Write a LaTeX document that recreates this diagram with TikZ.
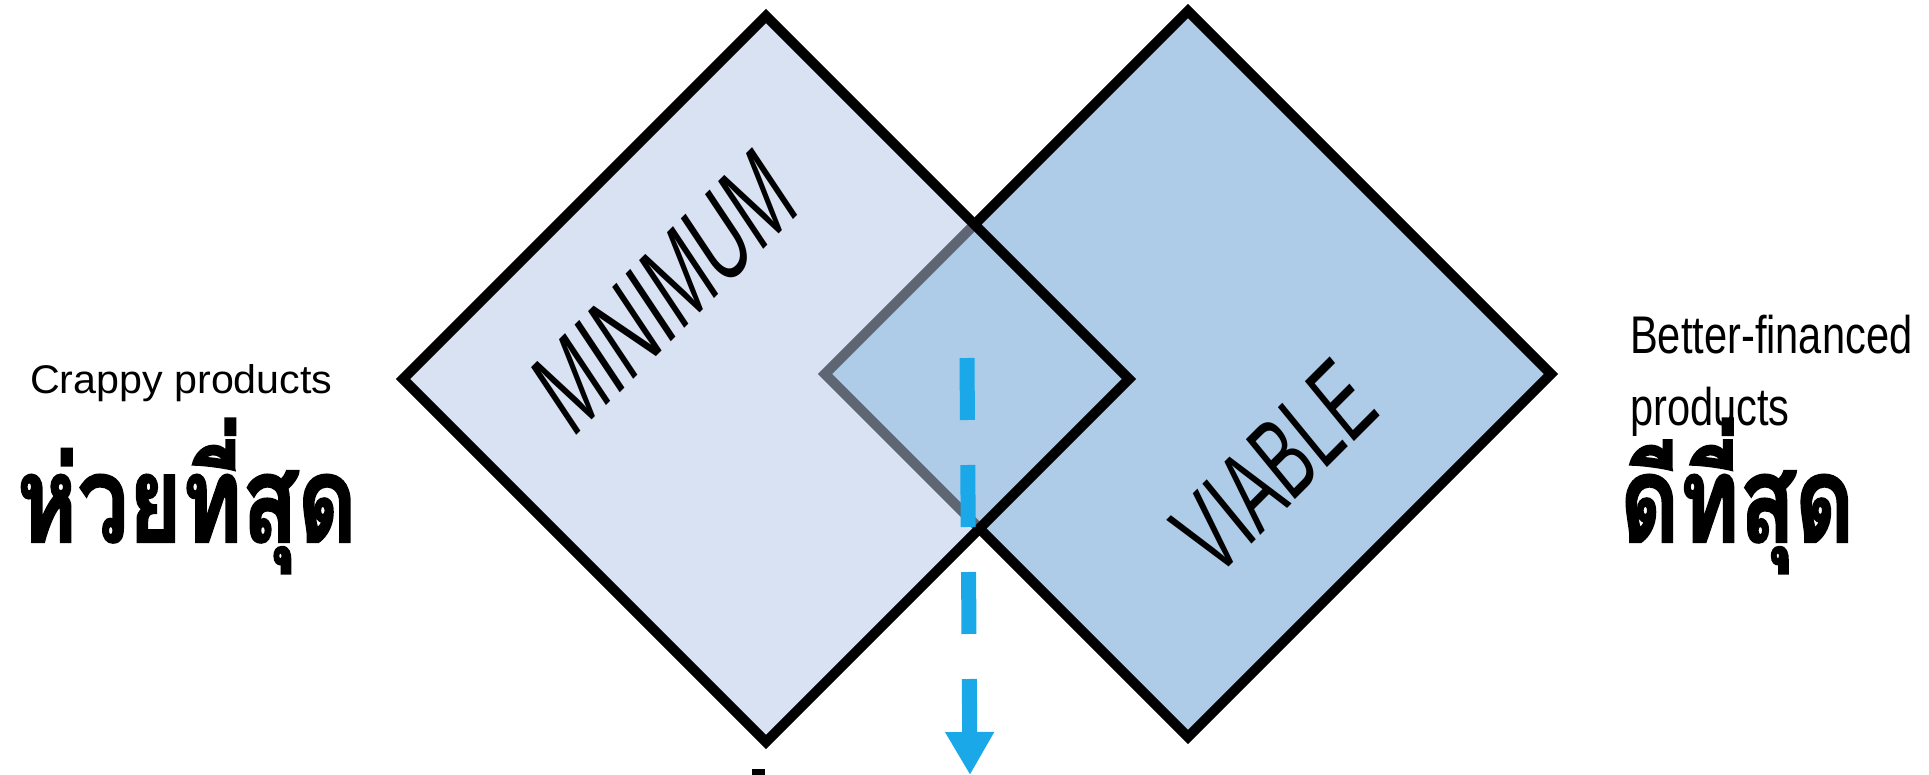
\documentclass[tikz,border=0pt]{standalone}
\usepackage{fontspec}
\setmainfont{Liberation Sans}
\newfontfamily\thaifont[Script=Thai, BoldFeatures={FakeBold=2}]{Loma}
\usetikzlibrary{arrows.meta}

\definecolor{lightfill}{HTML}{D9E2F3}
\definecolor{bluefill}{HTML}{AECBE8}
\definecolor{edgegrey}{HTML}{5F6673}
\definecolor{arrowblue}{HTML}{1AA8E8}

\begin{document}
\begin{tikzpicture}[x=1pt, y=-1pt, line join=miter,
  edge/.style={line width=10pt},
  smalltext/.style={inner sep=0pt, anchor=base west},
  thaitext/.style={inner sep=0pt, anchor=base west, xscale=0.76,
    font=\thaifont\bfseries\fontsize{120}{120}\selectfont},
  bigword/.style={inner sep=0pt, font=\fontsize{116}{116}\selectfont},
  flow/.style={arrowblue, line width=15pt, dash pattern=on 62pt off 45pt,
    -{Triangle[width=46pt, length=43pt]}}]

% page
\fill[white] (0,0) rectangle (1929,775);
\useasboundingbox (0,0) rectangle (1929,775);

% corners of the two squares
\coordinate (T1) at (766,16);
\coordinate (R1) at (1129,379);
\coordinate (B1) at (766,742);
\coordinate (L1) at (403,379);
\coordinate (T2) at (1188,11);
\coordinate (R2) at (1551,374);
\coordinate (B2) at (1188,737);
\coordinate (L2) at (825,374);
% where the outlines cross
\coordinate (X1) at (intersection of T1--R1 and L2--T2);
\coordinate (X2) at (intersection of R1--B1 and L2--B2);

% fills
\fill[lightfill] (T1) -- (R1) -- (B1) -- (L1) -- cycle;
\fill[bluefill] (T2) -- (R2) -- (B2) -- (L2) -- cycle;

% outline of the right square: grey inside the left one
\draw[edge, edgegrey] (X1) -- (L2) -- (X2);
\draw[edge, black] (X1) -- (T2) -- (R2) -- (B2) -- (X2);
% outline of the left square
\draw[edge, black] (T1) -- (R1) -- (B1) -- (L1) -- cycle;

% words inside the squares
\node[bigword, rotate=45, xslant=0.2, xscale=0.62] (minimum) at (665,292) {MINIMUM};
\node[bigword, rotate=45, xslant=0.1, xscale=0.6, font=\fontsize{112}{112}\selectfont] (viable) at (1274,467) {VIABLE};

% downward dashed arrow
\coordinate (flowstart) at (967,358);
\coordinate (flowend) at (970,775);
\draw[flow] (flowstart) -- (flowend);

% side captions
\node[smalltext, font=\fontsize{40}{40}\selectfont, xscale=1.03] (crappy) at (30,393) {Crappy products};
\node[thaitext] (worst) at (17,542) {ห่วยที่สุด};

\node[smalltext, font=\fontsize{53}{53}\selectfont, xscale=0.785] (better) at (1630,353) {Better-financed};
\node[smalltext, font=\fontsize{53}{53}\selectfont, xscale=0.785] (products) at (1630,425) {products};
\node[thaitext] (best) at (1620,542) {ดีที่สุด};

% mark at the lower edge
\fill[black] (752,769) rectangle (765,775);
\end{tikzpicture}
\end{document}
